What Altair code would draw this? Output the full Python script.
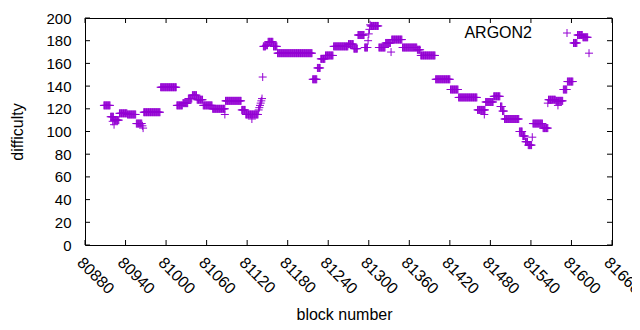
import altair as alt
import pandas as pd

series_name = "ARGON2"
color = "#9400D3"

# runs of constant difficulty: first block, last block, difficulty
run_start = [80908, 80918, 80923, 80931, 80943, 80956, 80967, 80992, 81016, 81025,
             81033, 81039, 81046, 81055, 81069, 81088, 81112, 81118, 81144, 81148,
             81151, 81159, 81165, 81217, 81224, 81229, 81236, 81248, 81270, 81278,
             81284, 81294, 81303, 81315, 81325, 81334, 81350, 81372, 81377, 81399,
             81421, 81433, 81461, 81473, 81485, 81495, 81498, 81501, 81523, 81528,
             81532, 81536, 81543, 81558, 81566, 81577, 81588, 81594, 81603, 81609,
             81617]
run_end = [80917, 80922, 80930, 80942, 80955, 80964, 80991, 81015, 81024, 81032,
           81038, 81045, 81054, 81068, 81087, 81111, 81117, 81136, 81147, 81150,
           81158, 81164, 81216, 81223, 81228, 81235, 81247, 81269, 81277, 81283,
           81293, 81298, 81314, 81324, 81332, 81349, 81371, 81376, 81398, 81420,
           81432, 81460, 81472, 81484, 81494, 81497, 81500, 81522, 81527, 81531,
           81535, 81541, 81557, 81565, 81576, 81587, 81593, 81602, 81608, 81616,
           81624]
run_value = [123, 113, 110, 116, 115, 107, 117, 139, 123, 125,
             129, 132, 128, 123, 120, 127, 119, 115, 175, 176,
             179, 175, 169, 146, 156, 164, 167, 175, 177, 173,
             185, 174, 193, 174, 178, 181, 174, 172, 167, 146,
             137, 130, 119, 126, 131, 122, 118, 111, 100, 96,
             91, 88, 107, 103, 128, 127, 137, 144, 178, 185,
             183]

# isolated blocks
single_block = [80921, 80923, 80965, 80966, 81087, 81127, 81137, 81138, 81139, 81140,
                81141, 81142, 81143, 81299, 81300, 81301, 81302, 81333, 81471, 81542,
                81565, 81580, 81626]
single_value = [109, 106, 105, 103, 115, 111, 119, 121, 123, 125,
                127, 129, 148, 180, 186, 190, 194, 170, 115, 95,
                125, 123, 169]

x_ticks = [80880, 80940, 81000, 81060, 81120, 81180, 81240, 81300, 81360,
           81420, 81480, 81540, 81600, 81660]
y_ticks = [0, 20, 40, 60, 80, 100, 120, 140, 160, 180, 200]

blocks, values = [], []
for s, e, v in zip(run_start, run_end, run_value):
    for b in range(s, e + 1):
        blocks.append(b)
        values.append(v)
blocks += single_block
values += single_value
df = pd.DataFrame({"block": blocks, "difficulty": values})

W, H = 527, 227
FONT = "Liberation Sans"
FS = 15
PLUS = "M-1,0H1M0,-1V1"

xs = alt.Scale(domain=[80880, 81660], nice=False, zero=False)
ys = alt.Scale(domain=[0, 200], nice=False, zero=True)

x_axis = alt.Axis(values=x_ticks, format="d", labelAngle=45, labelAlign="left",
                  labelBaseline="top", labelPadding=9, labelFlush=False,
                  labelOverlap=False, labelBound=False, ticks=False, domain=False,
                  grid=False, titleX=259, titleY=74, titleBaseline="alphabetic",
                  titleAlign="center", labelFont=FONT, labelFontSize=16,
                  labelColor="black", titleFont=FONT, titleFontSize=16,
                  titleFontWeight="normal", titleColor="black")
y_axis = alt.Axis(values=y_ticks, labelPadding=14, labelFlush=False,
                  labelOverlap=False, ticks=False, domain=False, grid=False,
                  titleAngle=270, titleX=-63, titleY=H / 2,
                  titleBaseline="alphabetic", titleAlign="center",
                  labelFont=FONT, labelFontSize=FS, labelColor="black",
                  titleFont=FONT, titleFontSize=16, titleFontWeight="normal",
                  titleColor="black")

X = lambda: alt.X("block:Q", scale=xs, axis=x_axis, title="block number")
Y = lambda: alt.Y("difficulty:Q", scale=ys, axis=y_axis, title="difficulty")

points = alt.Chart(df).mark_point(
    shape=PLUS, size=64, filled=False, color=color, strokeWidth=1, opacity=1
).encode(x=X(), y=Y())

xt = pd.DataFrame({"block": x_ticks})
yt = pd.DataFrame({"difficulty": y_ticks})
tick_len = 5

xb = alt.Chart(xt).mark_rule(color="black", strokeWidth=1).encode(
    x=X(), y=alt.value(H), y2=alt.value(H - tick_len))
xtop = alt.Chart(xt).mark_rule(color="black", strokeWidth=1).encode(
    x=X(), y=alt.value(0), y2=alt.value(tick_len))
yl = alt.Chart(yt).mark_rule(color="black", strokeWidth=1).encode(
    y=Y(), x=alt.value(0), x2=alt.value(tick_len))
yr = alt.Chart(yt).mark_rule(color="black", strokeWidth=1).encode(
    y=Y(), x=alt.value(W), x2=alt.value(W - tick_len))

key_df = pd.DataFrame({"label": [series_name]})
key_text = alt.Chart(key_df).mark_text(
    align="right", baseline="alphabetic", font=FONT, fontSize=16, color="black"
).encode(x=alt.value(447), y=alt.value(20), text="label:N")
key_sym = alt.Chart(key_df).mark_point(
    shape=PLUS, size=64, filled=False, color=color, strokeWidth=1, opacity=1
).encode(x=alt.value(482), y=alt.value(15))

chart = alt.layer(points, xb, xtop, yl, yr, key_text, key_sym).properties(
    width=W, height=H,
    autosize=alt.AutoSizeParams(type="none"),
    padding={"left": 77, "top": 10, "right": 20, "bottom": 77},
    background="white",
).configure_view(
    stroke="black", strokeWidth=1
)

chart.save("out.html", embed_options={"renderer": "svg", "actions": False})
